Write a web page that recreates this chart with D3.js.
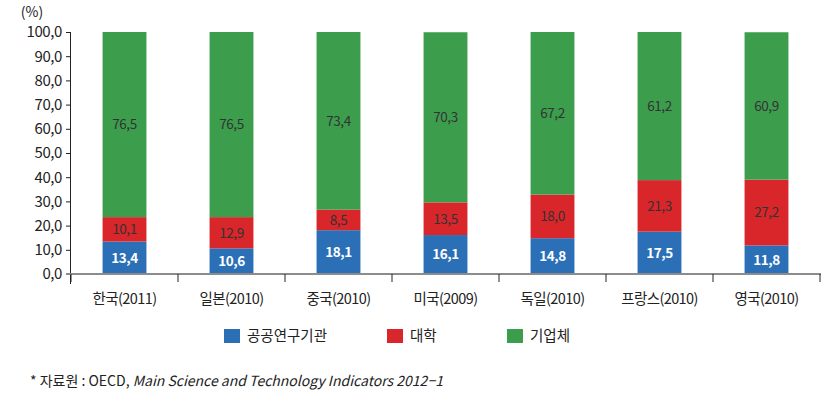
<!DOCTYPE html>
<html><head><meta charset="utf-8">
<script src="https://cdn.jsdelivr.net/npm/d3@7"></script>
<style>
body{margin:0;background:#fff;}
text{font-family:"Noto Sans CJK KR","Noto Sans",sans-serif;}
</style></head>
<body><svg id="c" width="831" height="410"></svg>
<script>
const categories = ["한국(2011)","일본(2010)","중국(2010)","미국(2009)","독일(2010)","프랑스(2010)","영국(2010)"];
const seriesNames = ["공공연구기관","대학","기업체"];
const publicInst = [13.4,10.6,18.1,16.1,14.8,17.5,11.8];
const university = [10.1,12.9,8.5,13.5,18.0,21.3,27.2];
const business = [76.5,76.5,73.4,70.3,67.2,61.2,60.9];
const yTicks = [0,10,20,30,40,50,60,70,80,90,100];
const colors = ["#2b6fb7","#d9262b","#3c9e4c"];
const labelColors = ["#ffffff","#333333","#333333"];

const svg = d3.select("#c");
const m = {l:71, r:11, t:32, b:136};
const W = 831, H = 410;
const x = d3.scaleBand().domain(categories).range([m.l, W - m.r]).paddingInner(0.59).paddingOuter(0.295);
const xb = d3.scaleBand().domain(categories).range([m.l, W - m.r]);
const y = d3.scaleLinear().domain([0,100]).range([H - m.b, m.t]);

const data = categories.map((c,i)=>({cat:c, v:[publicInst[i], university[i], business[i]]}));
const stack = d3.stack().keys([0,1,2]).value((d,k)=>d.v[k])(data);

const fmt = v => d3.format(".1f")(v).replace(".", ",");

// bars
stack.forEach((s,k)=>{
  const g = svg.append("g");
  g.selectAll("rect").data(s).enter().append("rect")
    .attr("x", d=>x(d.data.cat)).attr("width", x.bandwidth())
    .attr("y", d=>y(d[1])).attr("height", d=>y(d[0])-y(d[1]))
    .attr("fill", colors[k]);
  g.selectAll("text").data(s).enter().append("text")
    .attr("x", d=>x(d.data.cat)+x.bandwidth()/2)
    .attr("y", d=>(y(d[0])+y(d[1]))/2)
    .attr("dy","0.36em").attr("text-anchor","middle")
    .attr("font-size", 13.5).attr("fill", labelColors[k])
    .attr("font-weight", k===0 ? 600 : 400)
    .attr("letter-spacing", -0.4)
    .text(d=>fmt(d.data.v[k]));
});

// y axis
const ya = svg.append("g").attr("transform",`translate(${m.l},0)`)
  .call(d3.axisLeft(y).tickValues(yTicks).tickFormat(fmt).tickSize(5).tickPadding(4));
ya.select(".domain").attr("d", `M-0.5,${y(100)}V${y(0)+10}`).attr("stroke","#222");
ya.selectAll(".tick line").attr("stroke","#222");
ya.selectAll(".tick text").attr("font-size",15).attr("fill","#222").attr("letter-spacing",-0.4);

// x axis
const xa = svg.append("g").attr("transform",`translate(0,${y(0)})`);
xa.append("line").attr("x1", m.l-5).attr("x2", W-m.r+1).attr("y1",0).attr("y2",0)
  .attr("stroke","#8c8c8c").attr("stroke-width",2);
const bounds = categories.map(c=>xb(c)).concat([xb(categories[categories.length-1])+xb.bandwidth()]);
xa.selectAll("line.tk").data(bounds).enter().append("line").attr("class","tk")
  .attr("x1",d=>d).attr("x2",d=>d).attr("y1",0).attr("y2",8).attr("stroke","#222");
xa.selectAll("text").data(categories).enter().append("text")
  .attr("x", c=>xb(c)+xb.bandwidth()/2).attr("y", 30)
  .attr("text-anchor","middle").attr("font-size",14.5).attr("fill","#222").attr("letter-spacing",-0.6)
  .text(c=>c);

// unit
svg.append("text").attr("x",32).attr("y",17).attr("text-anchor","middle")
  .attr("font-size",14).attr("fill","#222").text("(%)");

// legend
const legX = [224, 387, 507];
seriesNames.forEach((n,k)=>{
  svg.append("rect").attr("x",legX[k]).attr("y",329).attr("width",16).attr("height",14).attr("fill",colors[k]);
  svg.append("text").attr("x",legX[k]+23).attr("y",336).attr("dy","0.36em")
    .attr("font-size",14.5).attr("fill","#222").text(n);
});

// source
const src = svg.append("text").attr("x",30).attr("y",386).attr("font-size",14).attr("fill","#222");
src.append("tspan").text("* 자료원 : OECD, ");
src.append("tspan").attr("font-style","italic").text("Main Science and Technology Indicators 2012−1");
</script></body></html>
